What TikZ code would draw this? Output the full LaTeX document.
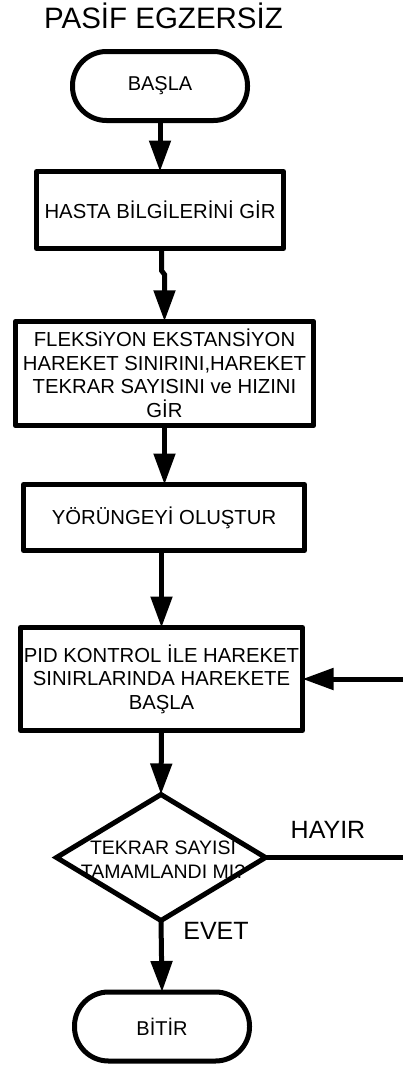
\documentclass[tikz,border=0pt]{standalone}
\usepackage{fontspec}
\setmainfont{Liberation Sans}
\usetikzlibrary{arrows.meta,shapes.geometric}
\begin{document}
\begin{tikzpicture}[x=1pt,y=-1pt,
 every node/.style={inner sep=0pt, outer sep=0pt},
 base/.style={draw, line width=5pt, line join=round, fill=white},
 term/.style={base, rounded corners=34pt, minimum width=175pt, minimum height=69pt, font=\fontsize{20}{23}\selectfont},
 proc/.style={base, font=\fontsize{20.3}{23.5}\selectfont, align=center},
 dec/.style={base, diamond, line join=miter},
 arr/.style={line width=5pt, -{Triangle[length=31pt,width=21pt]}},
 lbl/.style={font=\fontsize{25}{30}\selectfont}]
\fill[white] (0,0) rectangle (403,1068);
\useasboundingbox (0,0) rectangle (403,1068);
\node[font=\fontsize{29.5}{34}\selectfont, anchor=base] (title) at (163.5,28.5) {PASİF EGZERSİZ};
\node[term] (start) at (160,86) {BAŞLA};
\node[proc, minimum width=247pt, minimum height=77pt] (h) at (160,210) {HASTA BİLGİLERİNİ GİR};
\node[proc, minimum width=298pt, minimum height=104.5pt] (f) at (164.5,373.5) {FLEKSiYON EKSTANSİYON\\HAREKET SINIRINI,HAREKET\\TEKRAR SAYISINI ve HIZINI\\GİR};
\node[proc, minimum width=281pt, minimum height=66pt] (y) at (164,517.5) {YÖRÜNGEYİ OLUŞTUR};
\node[proc, minimum width=282pt, minimum height=103pt] (p) at (161.5,679) {PID KONTROL İLE HAREKET\\SINIRLARINDA HAREKETE\\BAŞLA};
\node[dec, minimum width=209pt, minimum height=126pt] (d) at (161,857.5) {};
\node[font=\fontsize{19.5}{24}\selectfont, align=center] (dt) at (163,860) {TEKRAR SAYISI\\TAMAMLANDI MI?};
\node[term] (end) at (162,1026.5) {BİTİR};
\node[lbl] (hayir) at (328,830) {HAYIR};
\node[lbl] (evet) at (216,931) {EVET};
\coordinate (fb) at (403,679);
\coordinate (no) at (403,857.5);
\draw[arr] (start.south) -- (h.north);
\draw[arr] ([xshift=1.5pt]h.south) -- ++(0,22) -- ++(3,4) -- (f.north);
\draw[arr] (f.south) -- (f.south |- y.north);
\draw[arr] (p.north |- y.south) -- (p.north);
\draw[arr] (p.south) -- (d.north);
\draw[arr] (d.south) -- (end.north);
\draw[arr] (fb) -- (p.east);
\draw[line width=4.5pt] (d.east) -- (no);
\end{tikzpicture}
\end{document}
